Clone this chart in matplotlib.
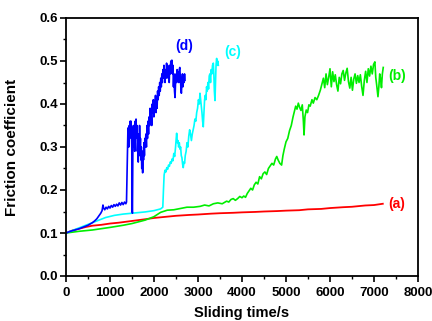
import matplotlib
matplotlib.use("Agg")
import matplotlib.pyplot as plt
from matplotlib.ticker import MultipleLocator, FormatStrFormatter

plt.rcParams['font.family'] = ['Liberation Sans', 'DejaVu Sans']

# (a) red
t_a = [0, 150, 300, 450, 600, 800, 1000, 1200, 1500, 1800, 2000, 2300, 2500, 2800, 3000,
       3300, 3500, 3800, 4000, 4300, 4500, 4800, 5000, 5300, 5500, 5800, 6000, 6300, 6500,
       6800, 7000, 7200]
f_a = [0.100, 0.106, 0.110, 0.114, 0.117, 0.119, 0.122, 0.124, 0.128, 0.132, 0.135, 0.138,
       0.140, 0.142, 0.143, 0.145, 0.146, 0.147, 0.148, 0.149, 0.150, 0.151, 0.152, 0.153,
       0.155, 0.156, 0.158, 0.160, 0.161, 0.164, 0.165, 0.168]

# (b) green
t_b = [0, 150, 300, 600, 1000, 1300, 1500, 1800, 2000, 2150, 2300, 2450, 2600, 2750, 2900,
       3050, 3150, 3250, 3350, 3450, 3550, 3650, 3700, 3750, 3800, 3850, 3900, 3950,
       4000, 4040, 4080, 4120, 4160, 4200, 4240, 4280, 4320, 4360, 4400, 4440, 4480, 4520,
       4560, 4600, 4640, 4680, 4720, 4760, 4790, 4820, 4860, 4900, 4930, 4960, 5000, 5040,
       5080, 5120, 5160, 5190, 5220, 5250, 5280, 5310, 5340, 5370, 5395, 5410, 5430, 5460,
       5490, 5520, 5550, 5590, 5620, 5660, 5700, 5740, 5780, 5810,
       5850, 5880, 5910, 5940, 5970, 6000, 6030, 6060, 6090, 6120, 6150, 6180, 6210, 6240,
       6270, 6300, 6330, 6360, 6390, 6420, 6450, 6480, 6510, 6540, 6570, 6600, 6630, 6660,
       6690, 6720, 6750, 6780, 6810, 6840, 6870, 6900, 6930, 6960, 6990, 7020, 7040, 7060,
       7090, 7110, 7130, 7150, 7170, 7190, 7210]
f_b = [0.100, 0.102, 0.104, 0.107, 0.113, 0.118, 0.122, 0.130, 0.138, 0.148, 0.153, 0.154,
       0.157, 0.160, 0.160, 0.162, 0.165, 0.163, 0.168, 0.170, 0.168, 0.174, 0.172, 0.178,
       0.180, 0.176, 0.180, 0.185,
       0.182, 0.186, 0.183, 0.192, 0.198, 0.204, 0.200, 0.212, 0.218, 0.214, 0.231, 0.226,
       0.238, 0.242, 0.236, 0.250, 0.256, 0.262, 0.258, 0.272, 0.278, 0.270, 0.262, 0.258,
       0.280, 0.295, 0.312, 0.320, 0.338, 0.350, 0.370, 0.382, 0.395, 0.388, 0.402, 0.392,
       0.385, 0.398, 0.360, 0.328, 0.370, 0.386, 0.380, 0.398, 0.395, 0.410, 0.402, 0.415,
       0.410, 0.420, 0.432, 0.444,
       0.460, 0.438, 0.470, 0.445, 0.462, 0.482, 0.440, 0.475, 0.452, 0.468, 0.445, 0.430,
       0.462, 0.447, 0.470, 0.478, 0.455, 0.472, 0.483, 0.452, 0.437, 0.462, 0.432, 0.458,
       0.470, 0.448, 0.466, 0.450, 0.468, 0.441, 0.420, 0.455, 0.476, 0.450, 0.482, 0.465,
       0.488, 0.470, 0.492, 0.498, 0.462, 0.445, 0.417, 0.440, 0.470, 0.458, 0.438, 0.470,
       0.485]

# (c) cyan
t_c = [0, 100, 300, 500, 700, 900, 1100, 1300, 1500, 1800, 2000, 2150, 2200, 2215, 2230,
       2250, 2270, 2290, 2310, 2330, 2350, 2370, 2390, 2410, 2430, 2450, 2470, 2490, 2505,
       2515, 2530, 2545, 2560, 2575, 2590, 2605, 2620, 2635, 2650, 2665, 2680, 2695, 2710,
       2730, 2750, 2770, 2790, 2810, 2830, 2850, 2870, 2890, 2910, 2930, 2950, 2970, 2990,
       3010, 3030, 3045, 3060, 3075, 3090, 3105, 3120, 3135, 3150, 3165, 3180, 3195, 3210,
       3225, 3240, 3255, 3270, 3285, 3300, 3315, 3330, 3348, 3360, 3372, 3386, 3398, 3410,
       3424, 3436, 3448, 3462]
f_c = [0.100, 0.104, 0.112, 0.120, 0.128, 0.136, 0.141, 0.144, 0.146, 0.149, 0.152, 0.156,
       0.160, 0.200, 0.235, 0.246, 0.242, 0.252, 0.248, 0.258, 0.255, 0.265, 0.262, 0.272,
       0.268, 0.285, 0.278, 0.300, 0.320, 0.332, 0.310, 0.315, 0.300, 0.310, 0.295, 0.300,
       0.280, 0.275, 0.260, 0.252, 0.265, 0.262, 0.280, 0.290, 0.310, 0.300, 0.325, 0.340,
       0.330, 0.315, 0.330, 0.340, 0.350, 0.365, 0.360, 0.380, 0.390, 0.410, 0.400, 0.425,
       0.410, 0.395, 0.380, 0.360, 0.347, 0.380, 0.410, 0.420, 0.410, 0.440, 0.430, 0.450,
       0.435, 0.465, 0.470, 0.450, 0.480, 0.470, 0.490, 0.495, 0.470, 0.430, 0.408, 0.450,
       0.490, 0.506, 0.490, 0.500, 0.490]

# (d) blue
t_d = [0, 100, 200, 300, 400, 500, 600, 650, 700, 750, 790, 820, 840, 855, 880, 910, 940,
       970, 1000, 1030, 1060, 1090, 1120, 1150, 1180, 1210, 1240, 1270, 1300, 1330, 1360,
       1375, 1380, 1395, 1405, 1417, 1428, 1438, 1448, 1458, 1468, 1478, 1488, 1495, 1500,
       1505, 1510, 1515, 1522, 1532, 1542, 1552, 1562, 1572, 1582, 1592, 1602, 1612, 1622,
       1632, 1642, 1652, 1662, 1672, 1682, 1692, 1702, 1712, 1722, 1732, 1742, 1752, 1762,
       1772, 1782, 1792, 1802, 1815, 1828, 1840, 1852, 1864, 1876, 1888, 1900, 1912, 1924,
       1936, 1948, 1960, 1972, 1985, 1998, 2010, 2022, 2034, 2046, 2058, 2070, 2082, 2094,
       2106, 2118, 2130, 2142, 2154, 2166, 2178, 2190, 2202, 2214, 2226, 2238, 2250, 2262,
       2274, 2286, 2298, 2310, 2322, 2334, 2346, 2358, 2370, 2382, 2394, 2406, 2418, 2430,
       2442, 2454, 2466, 2478, 2490, 2502, 2514, 2526, 2538, 2550, 2562, 2574, 2586, 2598,
       2610, 2622, 2634, 2646, 2658, 2670, 2682, 2694, 2705]
f_d = [0.100, 0.104, 0.107, 0.110, 0.114, 0.118, 0.124, 0.128, 0.133, 0.140, 0.146, 0.152,
       0.165, 0.158, 0.154, 0.160, 0.156, 0.162, 0.158, 0.164, 0.160, 0.166, 0.162, 0.167,
       0.163, 0.170, 0.165, 0.171, 0.166, 0.172, 0.168, 0.172, 0.200, 0.290, 0.330, 0.345,
       0.300, 0.350, 0.320, 0.360, 0.340, 0.360, 0.330, 0.300, 0.220, 0.150, 0.146, 0.220,
       0.330, 0.350, 0.300, 0.340, 0.290, 0.360, 0.320, 0.365, 0.330, 0.350, 0.290, 0.310,
       0.265, 0.330, 0.280, 0.350, 0.300, 0.320, 0.270, 0.300, 0.250, 0.290, 0.240, 0.290,
       0.270, 0.310, 0.280, 0.320, 0.300, 0.330, 0.300, 0.350, 0.320, 0.360, 0.330, 0.370,
       0.350, 0.390, 0.360, 0.380, 0.350, 0.400, 0.380, 0.410, 0.370, 0.400, 0.390, 0.420,
       0.380, 0.410, 0.390, 0.430, 0.410, 0.440, 0.420, 0.450, 0.430, 0.460, 0.440, 0.470,
       0.450, 0.480, 0.460, 0.490, 0.470, 0.450, 0.480, 0.460, 0.495, 0.470, 0.490, 0.460,
       0.480, 0.450, 0.490, 0.470, 0.500, 0.480, 0.502, 0.470, 0.490, 0.440, 0.470, 0.430,
       0.415, 0.450, 0.470, 0.450, 0.480, 0.460, 0.475, 0.450, 0.480, 0.485, 0.460, 0.440,
       0.425, 0.450, 0.470, 0.440, 0.460, 0.450, 0.470, 0.455]

labels = ['(a)', '(b)', '(c)', '(d)']
colors = ['#ff0000', '#00ee00', '#00ffff', '#0000ff']

fig = plt.figure(figsize=(4.32, 3.21), dpi=100)
ax = fig.add_axes([66/432, 1-276/321, (418-66)/432, (276-18)/321])

ax.plot(t_a, f_a, color=colors[0], lw=1.3)
ax.plot(t_b, f_b, color=colors[1], lw=1.2)
ax.plot(t_c, f_c, color=colors[2], lw=1.2)
ax.plot(t_d, f_d, color=colors[3], lw=1.2)

ax.text(7330, 0.168, labels[0], color=colors[0], fontsize=10, fontweight='bold', va='center')
ax.text(7330, 0.465, labels[1], color=colors[1], fontsize=10, fontweight='bold', va='center')
ax.text(3780, 0.522, labels[2], color=colors[2], fontsize=10, fontweight='bold', va='center', ha='center')
ax.text(2690, 0.534, labels[3], color=colors[3], fontsize=10, fontweight='bold', va='center', ha='center')

ax.set_xlim(0, 8000)
ax.set_ylim(0, 0.6)
ax.xaxis.set_major_locator(MultipleLocator(1000))
ax.xaxis.set_minor_locator(MultipleLocator(500))
ax.yaxis.set_major_locator(MultipleLocator(0.1))
ax.yaxis.set_minor_locator(MultipleLocator(0.05))
ax.yaxis.set_major_formatter(FormatStrFormatter('%.1f'))
ax.tick_params(which='major', direction='out', length=4, width=1.2, labelsize=9.5, pad=2)
ax.tick_params(axis='x', which='major', pad=4)
ax.tick_params(which='minor', direction='out', length=2.5, width=1.0)
for lab in ax.get_xticklabels() + ax.get_yticklabels():
    lab.set_fontweight('bold')
for s in ax.spines.values():
    s.set_linewidth(1.3)

ax.set_xlabel('Sliding time/s', fontsize=10.5, fontweight='bold', labelpad=5)
ax.set_ylabel('Friction coefficient', fontsize=11, fontweight='bold')
ax.yaxis.set_label_coords(-0.134, 0.5)

fig.savefig('out.png', dpi=100)
